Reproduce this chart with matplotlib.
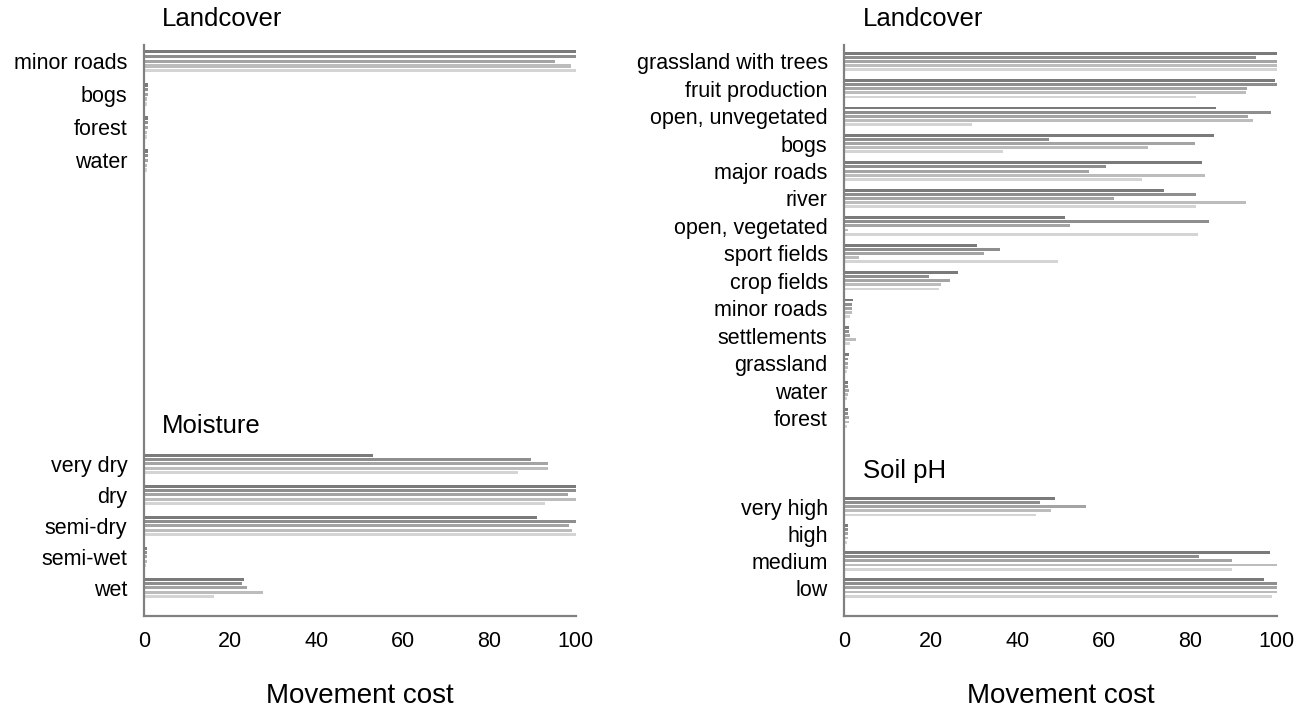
import numpy as np
import matplotlib
matplotlib.use('Agg')
import matplotlib.pyplot as plt

plt.rcParams['font.family'] = ['Liberation Sans', 'DejaVu Sans']

# five model runs per category, dark to light
shades = ['#7a7a7a', '#8e8e8e', '#a4a4a4', '#bcbcbc', '#d4d4d4']

# left column
left_land_labels = ['minor roads', 'bogs', 'forest', 'water']
left_land_values = [
    [100, 100, 95.1, 98.8, 100],
    [0.9, 0.9, 0.9, 0.8, 0.8],
    [0.9, 0.9, 0.9, 0.8, 0.8],
    [0.9, 0.9, 0.9, 0.8, 0.8],
]
moisture_labels = ['very dry', 'dry', 'semi-dry', 'semi-wet', 'wet']
moisture_values = [
    [53.1, 89.7, 93.6, 93.6, 86.6],
    [100, 100, 98.1, 100, 92.8],
    [91.0, 100, 98.3, 99.1, 100],
    [0.6, 0.6, 0.6, 0.6, 0.5],
    [23.2, 22.8, 23.8, 27.5, 16.2],
]

# right column
right_land_labels = ['grassland with trees', 'fruit production', 'open, unvegetated',
                     'bogs', 'major roads', 'river', 'open, vegetated', 'sport fields',
                     'crop fields', 'minor roads', 'settlements', 'grassland', 'water',
                     'forest']
right_land_values = [
    [100, 95.2, 100, 100, 100],
    [99.5, 100, 93.1, 92.9, 81.2],
    [85.9, 98.6, 93.4, 94.4, 29.5],
    [85.4, 47.4, 81.0, 70.2, 36.6],
    [82.8, 60.5, 56.6, 83.4, 68.8],
    [73.9, 81.4, 62.3, 92.9, 81.2],
    [51.1, 84.4, 52.1, 0.9, 81.8],
    [30.6, 36.0, 32.2, 3.4, 49.3],
    [26.3, 19.6, 24.5, 22.4, 21.8],
    [1.9, 1.7, 1.7, 1.7, 1.3],
    [1.0, 1.0, 1.3, 2.7, 1.3],
    [1.0, 0.9, 0.9, 0.9, 0.7],
    [0.9, 0.9, 1.0, 0.9, 0.7],
    [0.9, 0.9, 1.0, 1.0, 0.7],
]
ph_labels = ['very high', 'high', 'medium', 'low']
ph_values = [
    [48.7, 45.3, 55.9, 47.7, 44.4],
    [0.9, 0.9, 0.9, 0.9, 0.7],
    [98.5, 82.1, 89.7, 100, 89.6],
    [97.1, 100, 100, 100, 98.9],
]


def draw_group(ax, centers, values, pitch, thick):
    values = np.asarray(values)
    for k in range(values.shape[1]):
        ax.barh(centers + (k - 2) * pitch, values[:, k], height=thick,
                color=shades[k], linewidth=0)


def style_axes(ax, centers, labels):
    ax.set_xlim(0, 100)
    ax.set_ylim(570, 0)
    ax.set_yticks(centers)
    ax.set_yticklabels(labels, fontsize=15.5)
    ax.set_xticks([0, 20, 40, 60, 80, 100])
    ax.tick_params(axis='x', length=0, pad=11, labelsize=15.5)
    ax.tick_params(axis='y', length=0, pad=12)
    for side in ['top', 'right']:
        ax.spines[side].set_visible(False)
    for side in ['left', 'bottom']:
        ax.spines[side].set_color('#808080')
        ax.spines[side].set_linewidth(1.6)
    ax.set_xlabel('Movement cost', fontsize=20, labelpad=22)


fig = plt.figure(figsize=(12.97, 7.08), dpi=100)

# left column: landcover on top, moisture below
ax1 = fig.add_axes([0.111, 0.130, 0.333, 0.806])
c_land = 16 + 33 * np.arange(len(left_land_labels))
c_moist = 418 + 31 * np.arange(len(moisture_labels))
draw_group(ax1, c_land, left_land_values, 4.75, 3.3)
draw_group(ax1, c_moist, moisture_values, 4.3, 3.0)
style_axes(ax1, np.concatenate([c_land, c_moist]), left_land_labels + moisture_labels)
ax1.text(4.2, -26, 'Landcover', fontsize=18.5, va='center', ha='left', clip_on=False)
ax1.text(4.2, 380, 'Moisture', fontsize=18.5, va='center', ha='left')

# right column: landcover on top, soil pH below
ax2 = fig.add_axes([0.651, 0.130, 0.3335, 0.806])
c_rland = 16 + 27.4 * np.arange(len(right_land_labels))
c_ph = 461 + 27 * np.arange(len(ph_labels))
draw_group(ax2, c_rland, right_land_values, 4.1, 2.9)
draw_group(ax2, c_ph, ph_values, 4.1, 2.9)
style_axes(ax2, np.concatenate([c_rland, c_ph]), right_land_labels + ph_labels)
ax2.text(4.2, -26, 'Landcover', fontsize=18.5, va='center', ha='left', clip_on=False)
ax2.text(4.2, 425, 'Soil pH', fontsize=18.5, va='center', ha='left')

fig.savefig('out.png', dpi=100)
